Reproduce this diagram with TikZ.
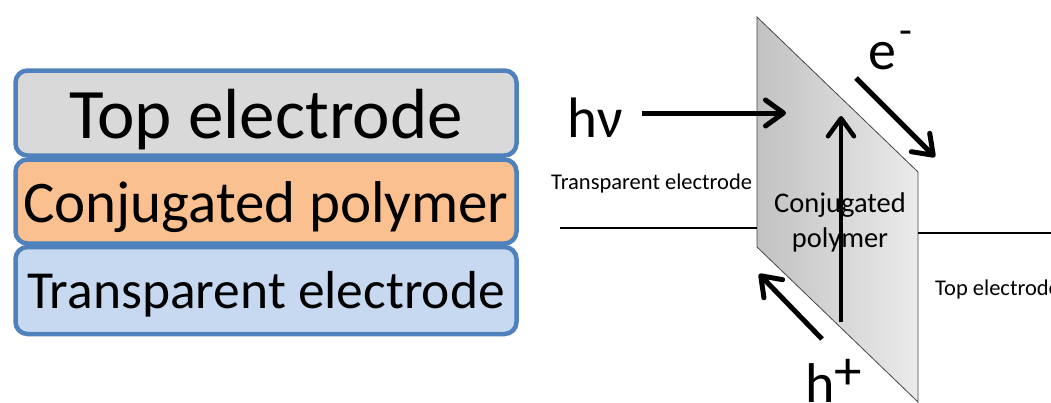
\documentclass[tikz,border=0pt]{standalone}
\usepackage{fontspec}
\setmainfont{Carlito}
\usetikzlibrary{arrows.meta}
\definecolor{boxblue}{RGB}{79,129,189}
\definecolor{topgray}{RGB}{217,217,217}
\definecolor{polyorange}{RGB}{250,192,144}
\definecolor{transblue}{RGB}{198,217,241}
\definecolor{edgegray}{RGB}{70,70,70}
\tikzset{
  layer/.style={draw=boxblue, line width=4.5pt, rounded corners=12pt,
    minimum width=501pt, inner sep=0pt, text depth=0pt, anchor=center},
  bigarrow/.style={line width=5pt, -{Straight Barb[length=18pt,width=26pt,round]}},
  wire/.style={line width=2pt},
  smalllabel/.style={inner sep=0pt, font=\fontsize{22.5}{26}\selectfont},
  symlabel/.style={inner sep=0pt, font=\fontsize{56}{60}\selectfont}
}
\begin{document}
\begin{tikzpicture}[x=1pt,y=-1pt]
\useasboundingbox (0,0) rectangle (1051,402);
% stacked layers
\node[layer, fill=topgray, minimum height=85pt, text height=50pt,
  font=\fontsize{71}{80}\selectfont] (top) at (266,113) {Top electrode};
\node[layer, fill=polyorange, minimum height=84pt, text height=41pt,
  font=\fontsize{59}{66}\selectfont] (poly) at (266,201.5) {Conjugated polymer};
\node[layer, fill=transblue, minimum height=87pt, text height=36pt,
  font=\fontsize{53.5}{60}\selectfont] (trans) at (266,290.5) {Transparent electrode};
% device sketch
\coordinate (tl) at (757,17);
\coordinate (tr) at (918,172);
\coordinate (br) at (918,402);
\coordinate (bl) at (757,247);
\shade[left color=black!24, right color=black!8] (tl) -- (tr) -- (br) -- (bl) -- cycle;
\draw[edgegray, line width=0.8pt] (tl) -- (tr) -- (br) -- (bl) -- cycle;
\coordinate (wl) at (560,228);
\coordinate (wlend) at (757,228);
\coordinate (wr) at (918,233);
\coordinate (wrend) at (1051,233);
\draw[wire] (wl) -- (wlend);
\draw[wire] (wr) -- (wrend);
\node[smalllabel, anchor=base west] (tlabel) at (551,189) {Transparent electrode};
\node[smalllabel, anchor=base west] (toplabel) at (935,295) {Top electrode};
\node[inner sep=0pt, align=center, anchor=base, font=\fontsize{28.5}{35}\selectfont] (cp) at (840,247) {Conjugated\\polymer};
\node[symlabel, anchor=base west, font=\fontsize{57}{60}\selectfont] (hv) at (567,137) {hν};
\node[symlabel, anchor=base west] (em) at (868,69.5) {e\kern3pt\raisebox{25pt}{\fontsize{42}{42}\selectfont -}};
\node[symlabel, anchor=base west] (hp) at (805,402) {h\kern0pt\raisebox{12.5pt}{\fontsize{55}{55}\selectfont +}};
\coordinate (hvs) at (642,113);
\coordinate (hve) at (786,113);
\coordinate (vs) at (841,322);
\coordinate (ve) at (841,116);
\coordinate (es) at (856,78);
\coordinate (ee) at (935,157);
\coordinate (hs) at (822,339);
\coordinate (he) at (759,274);
\draw[bigarrow] (hvs) -- (hve);
\draw[bigarrow, line width=4.5pt] (vs) -- (ve);
\draw[bigarrow] (es) -- (ee);
\draw[bigarrow] (hs) -- (he);
\end{tikzpicture}
\end{document}
